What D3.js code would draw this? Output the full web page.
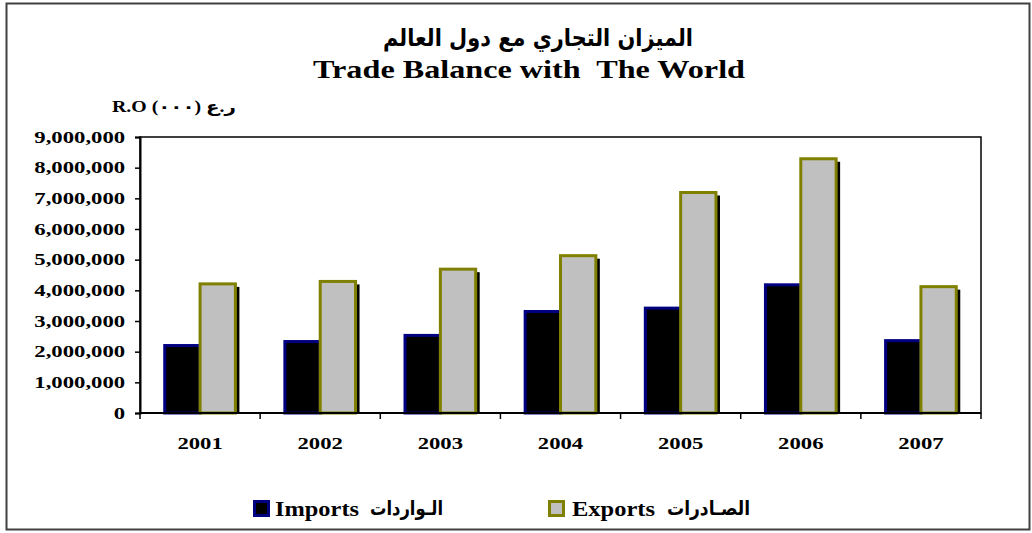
<!DOCTYPE html>
<html>
<head>
<meta charset="utf-8">
<script src="https://cdn.jsdelivr.net/npm/d3@7"></script>
<style>
  body { margin: 0; background: #fff; }
  text { font-family: "Liberation Serif", "Times New Roman", "DejaVu Sans", serif; font-weight: bold; white-space: pre; }
</style>
</head>
<body>
<svg id="chart" width="1032" height="533"></svg>
<script>
const years = ["2001", "2002", "2003", "2004", "2005", "2006", "2007"]
const importsData = [2200000, 2330000, 2530000, 3310000, 3420000, 4180000, 2360000]
const exportsData = [4210000, 4290000, 4690000, 5130000, 7190000, 8290000, 4120000]
const yTicks = [0, 1000000, 2000000, 3000000, 4000000, 5000000, 6000000, 7000000, 8000000, 9000000]
const seriesNames = ["Imports", "Exports"]
const seriesArabic = ["الـواردات", "الصـادرات"]
const titleAr = "الميزان التجاري مع دول العالم"
const titleEn = "Trade Balance with  The World"
const unitLabel = "R.O (٠٠٠) ر.ع"

let svg = d3.select("#chart")

// outer frame
svg.append("rect")
  .attr("x", 6.5).attr("y", 3.5)
  .attr("width", 1023).attr("height", 526)
  .attr("fill", "none")
  .attr("stroke", "#404040")
  .attr("stroke-width", 2)

let m = {left: 140, top: 137, right: 981, bottom: 413}

let x0 = d3.scaleBand().domain(years).range([m.left, m.right]).padding(0)
let x1 = d3.scaleBand().domain(seriesNames).range([0, x0.bandwidth()]).paddingInner(0).paddingOuter(0.7)
let y = d3.scaleLinear().domain([0, 9000000]).range([m.bottom, m.top])

let rows = years.map((yr, i) => {
  return {year: yr, values: [
    {key: "Imports", v: importsData[i]},
    {key: "Exports", v: exportsData[i]}
  ]}
})

let fills = {Imports: "#000000", Exports: "#c0c0c0"}
let strokes = {Imports: "#000080", Exports: "#808000"}

// plot frame
svg.append("rect")
  .attr("x", m.left).attr("y", m.top)
  .attr("width", m.right - m.left).attr("height", m.bottom - m.top)
  .attr("fill", "none")
  .attr("stroke", "#000")
  .attr("stroke-width", 1.5)

let groups = svg.selectAll(".grp")
  .data(rows)
  .enter()
  .append("g")
  .attr("class", "grp")
  .attr("transform", (d) => { return "translate(" + x0(d.year) + ",0)" })

// shadows
groups.selectAll(".shadow")
  .data((d) => { return d.values })
  .enter()
  .append("rect")
  .attr("class", "shadow")
  .attr("x", (d) => { return x1(d.key) + 4 })
  .attr("y", (d) => { return y(d.v) + 3 })
  .attr("width", x1.bandwidth())
  .attr("height", (d) => { return y(0) - y(d.v) - 3 })
  .attr("fill", "#000")

groups.selectAll(".bar")
  .data((d) => { return d.values })
  .enter()
  .append("rect")
  .attr("class", "bar")
  .attr("x", (d) => { return x1(d.key) })
  .attr("y", (d) => { return y(d.v) })
  .attr("width", x1.bandwidth())
  .attr("height", (d) => { return y(0) - y(d.v) })
  .attr("fill", (d) => { return fills[d.key] })
  .attr("stroke", (d) => { return strokes[d.key] })
  .attr("stroke-width", 3)

// y axis
let yAxis = svg.append("g")
  .attr("transform", "translate(" + m.left + ",0)")
  .call(d3.axisLeft(y).tickValues(yTicks).tickFormat(d3.format(",")).tickSize(5).tickPadding(0))
yAxis.select(".domain").attr("stroke-width", 2)
yAxis.selectAll("line").attr("stroke-width", 1.5)
yAxis.selectAll("text")
  .attr("font-size", 16)
  .attr("fill", "#000")
  .attr("x", -10.5)
  .attr("transform", "scale(1.42,1)")

// x axis: ticks on category boundaries
let xAxis = svg.append("g")
  .attr("transform", "translate(0," + m.bottom + ")")
xAxis.append("line")
  .attr("x1", m.left).attr("x2", m.right)
  .attr("stroke", "#000").attr("stroke-width", 2)
xAxis.selectAll(".tk")
  .data(years.concat(["end"]))
  .enter()
  .append("line")
  .attr("x1", (d) => { return d == "end" ? m.right : x0(d) })
  .attr("x2", (d) => { return d == "end" ? m.right : x0(d) })
  .attr("y1", 0).attr("y2", 6)
  .attr("stroke", "#000").attr("stroke-width", 1.5)
xAxis.selectAll(".lbl")
  .data(years)
  .enter()
  .append("text")
  .attr("text-anchor", "middle")
  .attr("font-size", 16)
  .attr("transform", (d) => { return "translate(" + (x0(d) + x0.bandwidth() / 2) + ",36) scale(1.42,1)" })
  .text((d) => { return d })

// unit label
svg.append("text")
  .attr("x", 112).attr("y", 112)
  .attr("font-size", 16)
  .attr("textLength", 124)
  .attr("lengthAdjust", "spacingAndGlyphs")
  .text(unitLabel)

// titles
svg.append("text")
  .attr("x", 538).attr("y", 46)
  .attr("text-anchor", "middle")
  .attr("font-size", 24)
  .attr("textLength", 310)
  .attr("lengthAdjust", "spacingAndGlyphs")
  .style("font-family", "'DejaVu Sans', sans-serif")
  .text(titleAr)

svg.append("text")
  .attr("x", 529).attr("y", 78)
  .attr("text-anchor", "middle")
  .attr("font-size", 26)
  .attr("textLength", 432)
  .attr("lengthAdjust", "spacingAndGlyphs")
  .text(titleEn)

// legend
let legendPos = [
  {sx: 254.5, ex: 275, ew: 84, ax: 370, aw: 73},
  {sx: 549.5, ex: 572, ew: 83, ax: 667, aw: 83}
]
seriesNames.forEach((s, i) => {
  let p = legendPos[i]
  svg.append("rect")
    .attr("x", p.sx).attr("y", 501.5)
    .attr("width", 14).attr("height", 14)
    .attr("fill", fills[s])
    .attr("stroke", strokes[s])
    .attr("stroke-width", 3)
  svg.append("text")
    .attr("x", p.ex).attr("y", 516)
    .attr("font-size", 22)
    .attr("textLength", p.ew)
    .attr("lengthAdjust", "spacingAndGlyphs")
    .text(s)
  svg.append("text")
    .attr("x", p.ax).attr("y", 515)
    .attr("font-size", 20)
    .attr("textLength", p.aw)
    .attr("lengthAdjust", "spacingAndGlyphs")
    .style("font-family", "'DejaVu Sans', sans-serif")
    .text(seriesArabic[i])
})
</script>
</body>
</html>
